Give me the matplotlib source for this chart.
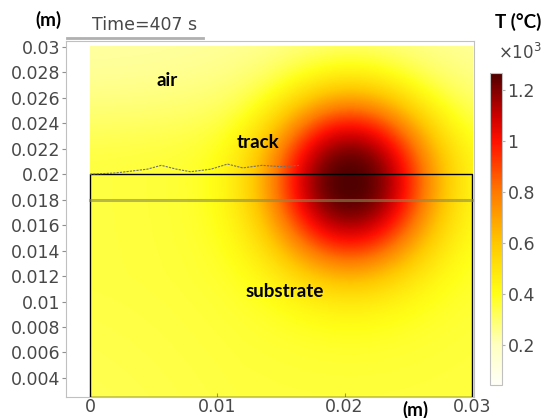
import numpy as np
import matplotlib.pyplot as plt
from matplotlib.colors import LinearSegmentedColormap, Normalize
import matplotlib.cm as cm
from matplotlib.lines import Line2D

# colour scale (deg C)
cbar_min, cbar_max = 43, 1267
cbar_ticks = [200, 400, 600, 800, 1000, 1200]
cbar_ticklabels = ["0.2", "0.4", "0.6", "0.8", "1", "1.2"]
heat_T = [43, 200, 400, 600, 800, 1000, 1100, 1267]
heat_colors = ["#fffff8", "#ffffc0", "#ffff18", "#ffc800", "#ff7a00",
               "#ff1000", "#cc0000", "#500000"]

# geometry (m)
domain_x = (0.0, 0.03)
domain_y = (0.0025, 0.03)
track_top = 0.02
layer_line = 0.018
track_x = [0.0, 0.002, 0.0045, 0.0056, 0.0068, 0.0079, 0.0095, 0.0108, 0.012, 0.0135, 0.015, 0.0165]
track_y = [0.0200, 0.0201, 0.0204, 0.0207, 0.0204, 0.0202, 0.0204, 0.0208, 0.0205, 0.0207, 0.0206, 0.0207]

# temperature field parameters
peak_T = 1265
spot_x, spot_y = 0.0204, 0.0193
spot_radius = 0.0065
spot_shape = 2.4
substrate_T = 350
air_far_T = 230
air_decay = 0.006

nx, ny = 300, 275
xs = np.linspace(domain_x[0], domain_x[1], nx)
ys = np.linspace(domain_y[0], domain_y[1], ny)
X, Y = np.meshgrid(xs, ys)
above = np.clip(Y - track_top, 0, None)
base = air_far_T + (substrate_T - air_far_T) * np.exp(-(above / air_decay) ** 2)
base = base - 20 * np.clip((0.012 - X) / 0.012, 0, 1) * np.clip((0.012 - Y) / 0.01, 0, 1)
r = np.sqrt((X - spot_x) ** 2 + ((Y - spot_y) / 1.05) ** 2)
core = np.exp(-(r / spot_radius) ** spot_shape)
T = base + (peak_T - base) * core + 70 * np.exp(-(r / 0.011) ** 2) * (1 - core)

cmap = LinearSegmentedColormap.from_list(
    "heat", [((t - cbar_min) / (cbar_max - cbar_min), c) for t, c in zip(heat_T, heat_colors)])
norm = Normalize(cbar_min, cbar_max)

fig = plt.figure(figsize=(5.46, 4.18), dpi=100)
ax = fig.add_axes([66 / 546, 1 - 397 / 418, 408 / 546, 356 / 418])
ax.imshow(T, extent=[*domain_x, *domain_y], origin="lower", cmap=cmap, norm=norm,
          interpolation="bilinear", aspect="auto")
ax.plot([0, 0.03, 0.03, 0, 0], [domain_y[0], domain_y[0], track_top, track_top, domain_y[0]],
        color="black", lw=1.0)
ax.plot(domain_x, [layer_line, layer_line], color="#8a8a50", lw=2.2, alpha=0.6)
ax.plot(track_x, track_y, color="#707070", lw=0.8, ls=(0, (2, 1)))

ax.set_xlim(-0.00188, 0.03016)
ax.set_ylim(0.0025, 0.03047)
ax.set_xticks([0, 0.01, 0.02, 0.03])
ax.set_xticklabels(["0", "0.01", "0.02", "0.03"])
yt = [0.004, 0.006, 0.008, 0.01, 0.012, 0.014, 0.016, 0.018, 0.02, 0.022, 0.024, 0.026, 0.028, 0.03]
ax.set_yticks(yt)
ax.set_yticklabels([f"{v:g}" for v in yt])
for s in ax.spines.values():
    s.set_color("#c0c0c0")
ax.tick_params(axis="both", labelsize=12.5, labelcolor="#484848", color="#909090", length=3)
ax.tick_params(axis="y", direction="out", pad=1)
ax.tick_params(axis="x", direction="in", pad=0.5)

lbl = dict(fontsize=13.5, fontweight="bold", family="Lato", color="black")
ax.text(0.0061, 0.0274, "air", ha="center", va="center", **lbl)
ax.text(0.0132, 0.0225, "track", ha="center", va="center", **lbl)
ax.text(0.0153, 0.0108, "substrate", ha="center", va="center", **lbl)

fig.text(48 / 546, 1 - 20 / 418, "(m)", ha="center", va="center", **lbl)
fig.text(415 / 546, 1 - 410 / 418, "(m)", ha="center", va="center", **lbl)
fig.text(92 / 546, 1 - 25 / 418, "Time=407 s", ha="left", va="center", fontsize=12.5, color="#484848")
fig.add_artist(Line2D([67 / 546, 203 / 546], [1 - 38 / 418, 1 - 38 / 418], color="#b0b0b0", lw=2))

cax = fig.add_axes([490 / 546, 1 - 385 / 418, 12 / 546, 312 / 418])
cb = fig.colorbar(cm.ScalarMappable(norm=norm, cmap=cmap), cax=cax)
cb.set_ticks(cbar_ticks)
cb.set_ticklabels(cbar_ticklabels)
cb.outline.set_edgecolor("#c0c0c0")
cax.tick_params(labelsize=12.5, labelcolor="#484848", color="#b0b0b0", length=2, pad=2)
fig.text(518 / 546, 1 - 22 / 418, "T (°C)", ha="center", va="center", **lbl)
fig.text(520 / 546, 1 - 53 / 418, "×10$^3$", ha="center", va="center", fontsize=12, color="#484848")

fig.savefig("out.png", dpi=100)
